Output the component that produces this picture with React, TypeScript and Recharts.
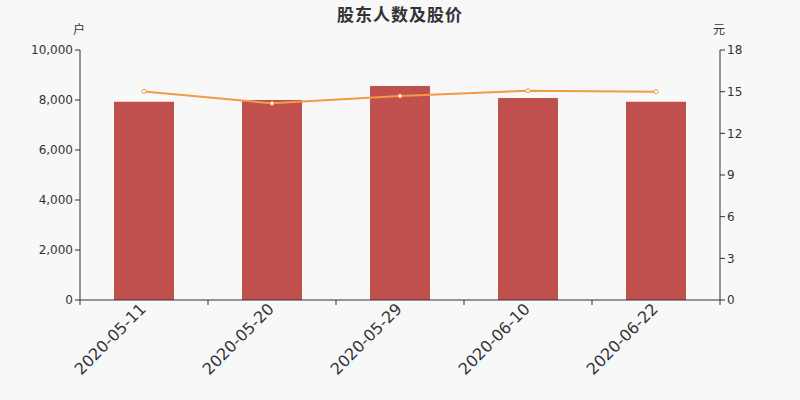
import { ComposedChart, Bar, Line, XAxis, YAxis } from 'recharts'

const dates = ['2020-05-11', '2020-05-20', '2020-05-29', '2020-06-10', '2020-06-22']
const holders = [7930, 8000, 8560, 8080, 7930]
const prices = [15.02, 14.16, 14.69, 15.07, 15.0]
const holderTicks = [0, 2000, 4000, 6000, 8000, 10000]
const priceTicks = [0, 3, 6, 9, 12, 15, 18]

const font = 'DejaVu Sans, sans-serif'
const cjk = '"Noto Sans CJK SC", sans-serif'
const axisColor = '#333'

const data = dates.map((d, i) => ({ date: d, holders: holders[i], price: prices[i] }))

const step = 640 / dates.length

function DateTick(props: any) {
  const { x, y, payload, index } = props
  const left = x - step / 2
  return (
    <g>
      <line x1={left} y1={y - 8} x2={left} y2={y - 3} stroke={axisColor} />
      {index === dates.length - 1 && (
        <line x1={x + step / 2} y1={y - 8} x2={x + step / 2} y2={y - 3} stroke={axisColor} />
      )}
      <text
        x={0}
        y={0}
        transform={`translate(${x - 1}, ${y - 2}) rotate(-45)`}
        textAnchor="end"
        dy="0.35em"
        fill={axisColor}
        fontSize={16}
        fontFamily={font}
      >
        {payload.value}
      </text>
    </g>
  )
}

export default function App() {
  return (
    <div style={{ position: 'absolute', left: 0, top: 0, width: 800, height: 400, background: '#f8f8f8' }}>
      <div
        style={{
          position: 'absolute',
          top: 1,
          width: 800,
          textAlign: 'center',
          fontFamily: cjk,
          fontWeight: 'bold',
          fontSize: 17,
          letterSpacing: 1,
          color: '#333',
        }}
      >
        股东人数及股价
      </div>
      <div style={{ position: 'absolute', left: 73, top: 20, fontFamily: cjk, fontSize: 12, color: '#333' }}>户</div>
      <div style={{ position: 'absolute', left: 713, top: 20, fontFamily: cjk, fontSize: 12, color: '#333' }}>元</div>
      <ComposedChart
        width={800}
        height={400}
        data={data}
        margin={{ top: 50, right: 0, left: 0, bottom: 0 }}
      >
        <XAxis
          dataKey="date"
          height={100}
          interval={0}
          tickLine={false}
          axisLine={{ stroke: axisColor }}
          tick={<DateTick />}
        />
        <YAxis
          yAxisId="left"
          width={80}
          domain={[0, 10000]}
          ticks={holderTicks}
          tickFormatter={(v) => v.toLocaleString('en-US')}
          axisLine={{ stroke: axisColor }}
          tickLine={{ stroke: axisColor }}
          tickSize={5}
          tick={{ fill: axisColor, fontSize: 12, fontFamily: font }}
        />
        <YAxis
          yAxisId="right"
          orientation="right"
          width={80}
          domain={[0, 18]}
          ticks={priceTicks}
          axisLine={{ stroke: axisColor }}
          tickLine={{ stroke: axisColor }}
          tickSize={5}
          tick={{ fill: axisColor, fontSize: 12, fontFamily: font }}
        />
        <Bar yAxisId="left" dataKey="holders" fill="#c0504d" barSize={60} isAnimationActive={false} />
        <Line
          yAxisId="right"
          dataKey="price"
          type="linear"
          stroke="#f39a45"
          strokeWidth={2}
          dot={{ r: 2, fill: '#fff', stroke: '#f39a45', strokeWidth: 1 }}
          isAnimationActive={false}
        />
      </ComposedChart>
    </div>
  )
}
